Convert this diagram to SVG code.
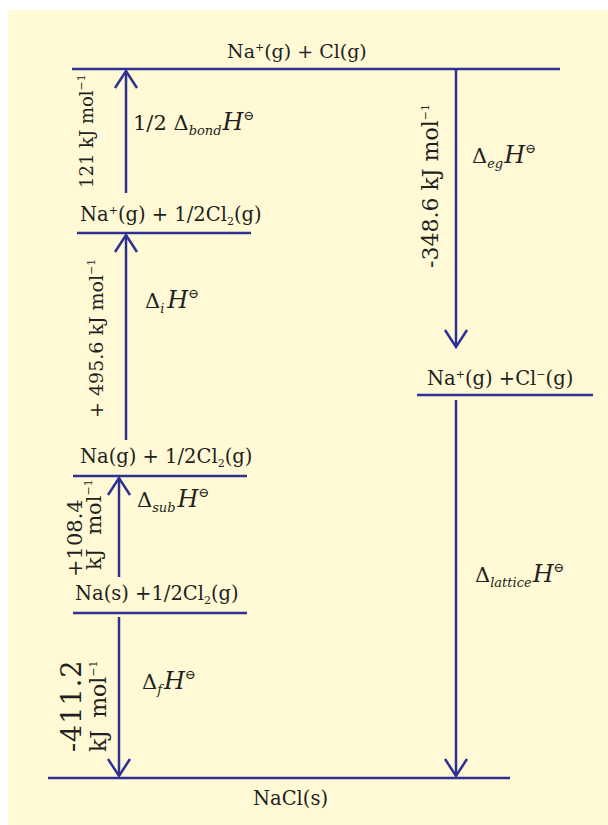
<svg xmlns="http://www.w3.org/2000/svg" width="608" height="825" viewBox="0 0 608 825">
<defs>
<style>
.bg{fill:#fff9d6}
.lvl{stroke:#2e3192;stroke-width:2.5;fill:none}
.arr{stroke:#2e3192;stroke-width:2.5;fill:none;marker-end:url(#head)}
text{font-family:"DejaVu Serif","Liberation Serif",serif;fill:#231f20}
.n{font-size:19.5px}
.lab{font-size:21px}
.h{font-style:italic;font-size:24px}
.sm{font-size:11px}
.st{font-size:13px}
.sb{font-size:13px;font-style:italic}
</style>
<marker id="head" markerUnits="userSpaceOnUse" viewBox="-20 -14 22 28" refX="0" refY="0" markerWidth="22" markerHeight="28" orient="auto" overflow="visible">
<path d="M-17,-11 L0,0 L-17,11" fill="none" stroke="#2e3192" stroke-width="2.5"/>
</marker>
</defs>
<rect class="bg" x="8" y="10" width="600" height="815"/>

<g id="connectors">
<path id="e_bond" class="arr" d="M126,193 V71"/>
<path id="e_ion" class="arr" d="M126,440 V235"/>
<path id="e_sub" class="arr" d="M119,577 V478"/>
<path id="e_f" class="arr" d="M119,617 V776"/>
<path id="e_eg" class="arr" d="M456,69 V347"/>
<path id="e_lat" class="arr" d="M456,400 V776"/>
</g>

<g id="n_top">
<line class="lvl" x1="72" y1="69" x2="560" y2="69"/>
<text class="n" x="227" y="58" style="font-size:19px">Na<tspan class="sm" dy="-7">+</tspan><tspan dy="7">(g) + Cl(g)</tspan></text>
</g>
<g id="n_naion">
<line class="lvl" x1="77" y1="233" x2="251" y2="233"/>
<text class="n" x="80" y="221">Na<tspan class="sm" dy="-7">+</tspan><tspan dy="7">(g) + 1/2Cl</tspan><tspan class="sm" dy="4">2</tspan><tspan dy="-4">(g)</tspan></text>
</g>
<g id="n_nag">
<line class="lvl" x1="73" y1="476" x2="247" y2="476"/>
<text class="n" x="80" y="463">Na(g) + 1/2Cl<tspan class="sm" dy="4">2</tspan><tspan dy="-4">(g)</tspan></text>
</g>
<g id="n_nas">
<line class="lvl" x1="73" y1="613" x2="247" y2="613"/>
<text class="n" x="75" y="600">Na(s) +1/2Cl<tspan class="sm" dy="4">2</tspan><tspan dy="-4">(g)</tspan></text>
</g>
<g id="n_ions">
<line class="lvl" x1="417" y1="395" x2="593" y2="395"/>
<text class="n" x="427" y="385">Na<tspan class="sm" dy="-7">+</tspan><tspan dy="7">(g) +Cl</tspan><tspan class="sm" dy="-7">−</tspan><tspan dy="7">(g)</tspan></text>
</g>
<g id="n_nacl">
<line class="lvl" x1="48" y1="778" x2="510" y2="778"/>
<text class="n" x="253" y="805">NaCl(s)</text>
</g>

<g id="labels">
<text class="lab" transform="translate(93,188) rotate(-90)" style="font-size:18px">121 kJ mol<tspan class="sm" dy="-8">−1</tspan></text>
<text class="lab" x="133" y="130">1/2 Δ<tspan class="sb" dy="5">bond</tspan><tspan class="h" dx="1" dy="-5">H</tspan><tspan class="st" dy="-10">⊖</tspan></text>

<text class="lab" transform="translate(438,268) rotate(-90)" style="font-size:22px">-348.6 kJ mol<tspan class="sm" dy="-9">−1</tspan></text>
<text class="lab" x="472" y="163">Δ<tspan class="sb" dy="5">eg</tspan><tspan class="h" dx="1" dy="-5">H</tspan><tspan class="st" dy="-10">⊖</tspan></text>

<text class="lab" transform="translate(103,418) rotate(-90)" style="font-size:19px">+ 495.6  kJ mol<tspan class="sm" dy="-8">−1</tspan></text>
<text class="lab" x="145" y="308">Δ<tspan class="sb" dy="5">i</tspan><tspan class="h" dx="3" dy="-5">H</tspan><tspan class="st" dy="-10">⊖</tspan></text>

<text class="lab" transform="translate(82,577) rotate(-90)">+108.4</text>
<text class="lab" transform="translate(101,570) rotate(-90)">kJ<tspan dx="14">mol</tspan><tspan class="sm" dy="-9">−1</tspan></text>
<text class="lab" x="137" y="507">Δ<tspan class="sb" dy="5">sub</tspan><tspan class="h" dx="2" dy="-5">H</tspan><tspan class="st" dy="-10">⊖</tspan></text>

<text class="lab" transform="translate(81,752) rotate(-90)" style="font-size:27px;letter-spacing:1px">-411.2</text>
<text class="lab" transform="translate(106,752) rotate(-90)" style="font-size:22px">kJ<tspan dx="12">mol</tspan><tspan class="sm" dy="-9">−1</tspan></text>
<text class="lab" x="142" y="689">Δ<tspan class="sb" dy="5">f</tspan><tspan class="h" dx="2" dy="-5">H</tspan><tspan class="st" dy="-10">⊖</tspan></text>

<text class="lab" x="475" y="582">Δ<tspan class="sb" dy="5">lattice</tspan><tspan class="h" dx="1" dy="-5">H</tspan><tspan class="st" dy="-10">⊖</tspan></text>
</g>
</svg>
